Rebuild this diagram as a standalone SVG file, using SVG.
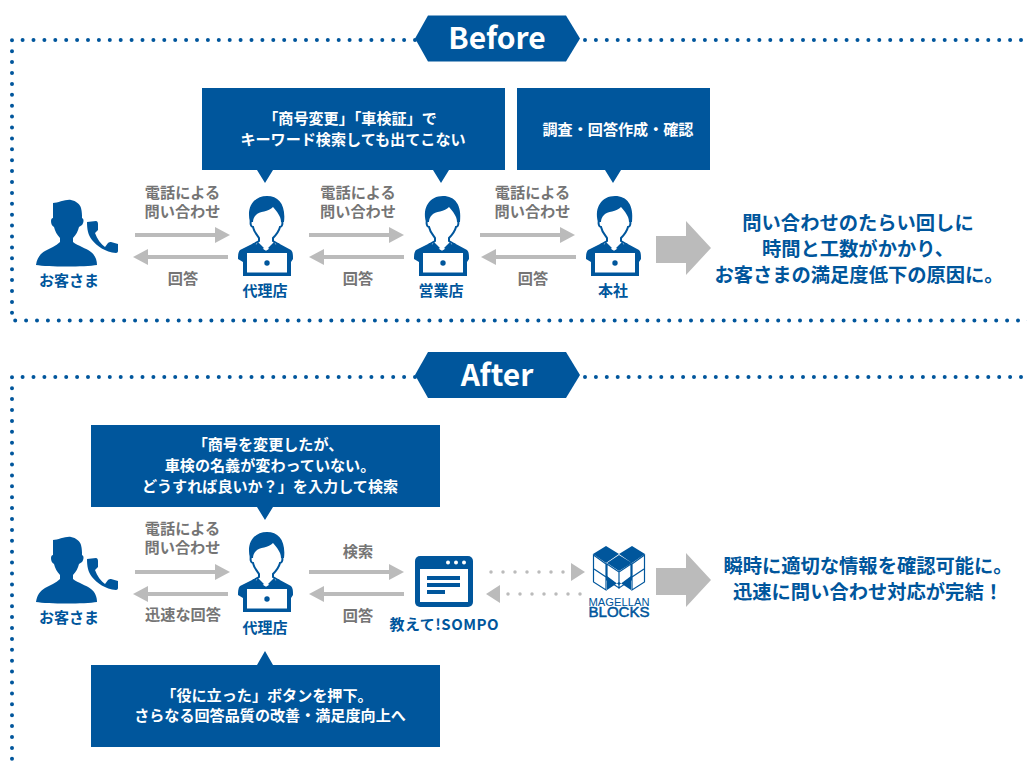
<svg xmlns="http://www.w3.org/2000/svg" width="1027" height="766" viewBox="0 0 1027 766">
<style>
text{font-family:"Noto Sans CJK JP","Noto Sans",sans-serif;font-weight:700;text-anchor:middle}
.b{fill:#00569c}
.box{fill:#00569c}
.w{fill:#fff;font-size:15.1px}
.g{fill:#757575;font-size:15.2px}
.n{fill:#00569c;font-size:15px}
.m{fill:#00569c;font-size:19.3px}
.dot{fill:none;stroke:#00569c;stroke-width:4;stroke-linecap:round;stroke-dasharray:0 10.9}
.gd{fill:none;stroke:#bbb;stroke-width:3.5;stroke-linecap:round;stroke-dasharray:0 12}
.ar{fill:none;stroke:#bbb;stroke-width:4}
.ah{fill:#bbb}
.h{fill:#fff;font-size:30px}
.logo{font-family:"Liberation Sans",sans-serif;fill:#00569c;font-weight:400}
</style>
<defs>
<g id="cust">
<path d="M53 203C58 203 66 199 71 200C76 201 80 204 81 208C82 212 82 215 82 218C84 219 84 222 82 225C81 226 80 226 79 227C78 231 76 235 73 238L73 242C78 246 86 248 91 252C95 255 97 260 97 265C85 267 48 267 36 265C37 258 40 254 45 251C50 248 56 246 60 242L60 238C57 235 55 231 54 227C52 226 51 224 51 221C51 219 52 218 53 218Z" class="b"/>
<path d="M87 222L96 221C97 221 98 222 98 224V230L95 233C97 239 101 244 105 247L108 243C109 242 110 242 111 242L118 244V251C118 252 117 253 116 253C105 252 97 246 92 240C88 235 87 229 87 222Z" class="b"/>
</g>
<g id="agent">
<path d="M251 220C250 224 251 227 253 227C254 232 257 235 259 238L259 241L254 244L266 252L278 244L273 241L273 238C276 235 279 231 280 227C282 227 283 224 282 220" fill="#fff" stroke="#00569c" stroke-width="2"/>
<path d="M250 222C246 207 254 196 267 196C279 196 286 205 284 222L281 222C281 216 277 212 273 207C269 212 259 211 256 215C254 217 253 219 253 222Z" class="b"/>
<path d="M254 243L240 250C238 252 238 256 238 259L243 262V276H291V262L293 259C293 255 293 252 291 250L278 243L273 248L266 251L259 248Z" class="b"/>
<path d="M258 242L264 248L261 250L256 245ZM274 242L268 248L271 250L276 245Z" class="b"/>
<rect x="247" y="253" width="40" height="19.5" fill="#fff"/>
<circle cx="267" cy="263" r="2.7" class="b"/>
</g>
<g id="rarr"><path d="M0 0H88" class="ar"/><path d="M80 -8L95 0L80 8Z" class="ah"/></g>
<g id="larr"><path d="M0 0H-88" class="ar"/><path d="M-80 -8L-95 0L-80 8Z" class="ah"/></g>
<path id="big" d="M656 236H686V221L711 248L686 275V263H656Z" class="ah"/>
</defs>

<g id="connectors">
<path class="dot" d="M415 40H12V320.5H1030M585 40H1030"/>
<path class="dot" d="M415 377H12V766M585 377H1030"/>
<use href="#rarr" x="135" y="235"/><use href="#larr" x="228" y="257"/>
<use href="#rarr" x="309" y="235"/><use href="#larr" x="404" y="257"/>
<use href="#rarr" x="480" y="235"/><use href="#larr" x="576" y="257"/>
<use href="#big"/>
<use href="#rarr" x="135" y="572"/><use href="#larr" x="228" y="594"/>
<use href="#rarr" x="309" y="572"/><use href="#larr" x="404" y="594"/>
<path class="gd" d="M491 572H564"/><path class="ah" d="M571 563L585 572L571 581Z"/>
<path class="gd" d="M508 594H581"/><path class="ah" d="M500 585L486 594L500 603Z"/>
<use href="#big" y="332"/>
</g>

<g id="before-title"><path class="box" d="M428 15.5H566L580 38.5L566 61.5H428L415 38.5Z"/><text class="h" x="497" y="49">Before</text></g>
<g id="after-title"><path class="box" d="M428 352H566L580 375L566 398H428L415 375Z"/><text class="h" x="497" y="386">After</text></g>

<g id="callout-1"><path class="box" d="M202 88H505V170H449L441 183L433 170H273L265 183L257 170H202Z"/>
<text class="w"><tspan x="350" y="124">「商号変更」「車検証」で</tspan><tspan x="353" y="145">キーワード検索しても出てこない</tspan></text></g>
<g id="callout-2"><path class="box" d="M517 88H710V170H621L613 183L605 170H517Z"/><text class="w" x="618" y="135">調査・回答作成・確認</text></g>
<g id="callout-3"><path class="box" d="M91 425H440V507H273L265 520L257 507H91Z"/>
<text class="w"><tspan x="268" y="450">「商号を変更したが、</tspan><tspan x="270" y="471">車検の名義が変わっていない。</tspan><tspan x="270" y="492">どうすれば良いか？」を入力して検索</tspan></text></g>
<g id="callout-4"><path class="box" d="M91 665H257L265 651L273 665H440V747H91Z"/>
<text class="w"><tspan x="267" y="701">「役に立った」ボタンを押下。</tspan><tspan x="270" y="721">さらなる回答品質の改善・満足度向上へ</tspan></text></g>

<g id="customer-1"><use href="#cust"/><text class="n" x="69" y="286">お客さま</text></g>
<g id="dairiten-1"><use href="#agent"/><text class="n" x="265" y="296">代理店</text></g>
<g id="eigyoten"><use href="#agent" x="176"/><text class="n" x="441" y="296">営業店</text></g>
<g id="honsha"><use href="#agent" x="348"/><text class="n" x="613" y="296">本社</text></g>
<g id="customer-2"><use href="#cust" y="337"/><text class="n" x="69" y="623">お客さま</text></g>
<g id="dairiten-2"><use href="#agent" y="336"/><text class="n" x="265" y="633">代理店</text></g>

<g id="labels">
<text class="g"><tspan x="182.5" y="198">電話による</tspan><tspan x="182.5" y="217">問い合わせ</tspan></text><text class="g" x="183" y="284">回答</text>
<text class="g"><tspan x="358" y="198">電話による</tspan><tspan x="358" y="217">問い合わせ</tspan></text><text class="g" x="358" y="284">回答</text>
<text class="g"><tspan x="532.5" y="198">電話による</tspan><tspan x="532.5" y="217">問い合わせ</tspan></text><text class="g" x="533" y="284">回答</text>
<text class="g"><tspan x="182.5" y="534">電話による</tspan><tspan x="182.5" y="553">問い合わせ</tspan></text><text class="g" x="183" y="620">迅速な回答</text>
<text class="g" x="358" y="557">検索</text><text class="g" x="358" y="621">回答</text>
</g>

<g id="sompo"><rect x="415" y="556" width="58" height="51" rx="5" class="b"/><rect x="420" y="569" width="48" height="33" fill="#fff"/>
<circle cx="448" cy="562.5" r="2" fill="#fff"/><circle cx="456" cy="562.5" r="2" fill="#fff"/><circle cx="464" cy="562.5" r="2" fill="#fff"/>
<path class="b" d="M427 576H460V580H427ZM427 583H460V587H427ZM427 590H445V594H427Z"/>
<text class="n" x="444" y="630" textLength="109" lengthAdjust="spacing">教えて!SOMPO</text></g>

<g id="magellan">
<path class="b" d="M593 554L606 546L619 554L606 563ZM645 554L632 546L619 554L632 563ZM607 563L619 555L632 563L619 571Z"/>
<path d="M593.5 555L606 564V590L593.5 582ZM644.5 555L632 564V590L644.5 582ZM607 564L619 572V588L607 580ZM631 564L619 572V588L631 580Z" fill="#fff" stroke="#00569c" stroke-width="1.2"/>
<path d="M594 569L606 577M644 569L632 577" stroke="#00569c" stroke-width="1.2" fill="none"/>
<path class="b" d="M607 576L619 585L631 576V590L619 582L607 590Z"/>
<text class="logo" font-size="11" textLength="61" lengthAdjust="spacingAndGlyphs"><tspan x="619" y="605.5">MAGELLAN</tspan></text>
<text class="logo" font-size="14.5" stroke="#00569c" stroke-width=".5" textLength="61" lengthAdjust="spacingAndGlyphs"><tspan x="619" y="617">BLOCKS</tspan></text>
</g>

<g id="result-1"><text class="m"><tspan x="858" y="230">問い合わせのたらい回しに</tspan><tspan x="858" y="256">時間と工数がかかり、</tspan><tspan x="859" y="282">お客さまの満足度低下の原因に。</tspan></text></g>
<g id="result-2"><text class="m"><tspan x="868" y="573">瞬時に適切な情報を確認可能に。</tspan><tspan x="868" y="599">迅速に問い合わせ対応が完結！</tspan></text></g>
</svg>
